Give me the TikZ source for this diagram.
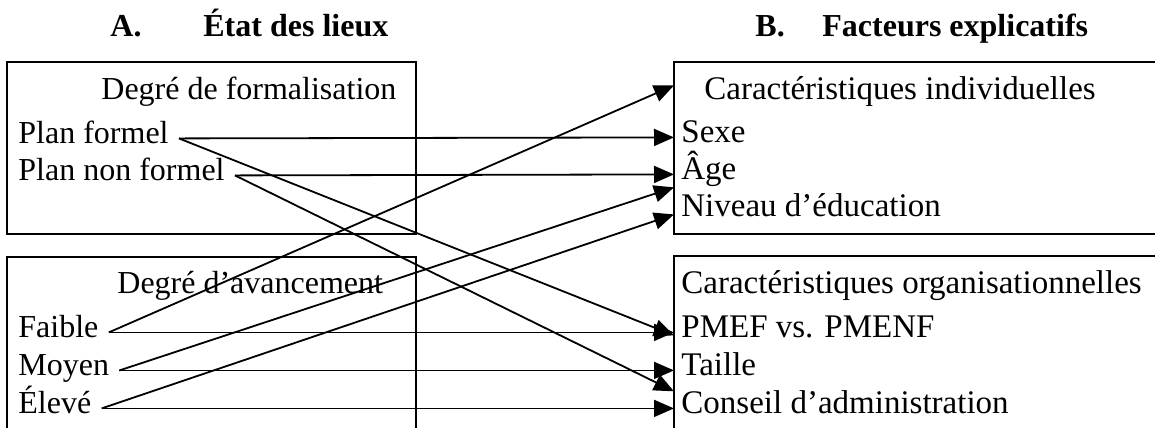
\documentclass[tikz,border=0pt]{standalone}
\usepackage{fontspec}
\setmainfont{Liberation Serif}
\usetikzlibrary{arrows.meta,calc}

\tikzset{
	gauche/.style={anchor=base west, inner xsep=5pt, inner ysep=0pt},
	droite/.style={anchor=base west, inner xsep=3.5pt, inner ysep=0pt, font=\fontsize{16.5}{19}\selectfont},
	titre/.style={anchor=base west, inner sep=0pt},
	entete/.style={anchor=base west, inner sep=0pt, font=\fontsize{16}{19}\selectfont\bfseries},
	fleche/.style={-{Triangle[length=10pt,width=8.5pt]}, line width=0.9pt},
	boite/.style={line width=1pt},
}

\begin{document}
\begin{tikzpicture}[x=0.5pt, y=-0.5pt, font=\fontsize{16}{19}\selectfont]
		\useasboundingbox (0, 0) rectangle (1155, 428);
		
		\node[entete] (ha) at (110, 36) {A.};
		\node[entete] (hb) at (203, 36) {État des lieux};
		\node[entete] (hc) at (755, 36) {B.};
		\node[entete] (hd) at (822, 36) {Facteurs explicatifs};
		
		\draw[boite] (7, 62) rectangle (416, 234);
		\draw[boite] (7, 428) -- (7, 257) -- (416, 257) -- (416, 428);
		\draw[boite] (1156, 62) -- (674, 62) -- (674, 234) -- (1156, 234);
		\draw[boite] (1156, 256) -- (674, 256) -- (674, 428);
		
		\node[titre] (tf) at (101, 99) {Degré de formalisation};
		\node[titre] (ta) at (117, 293) {Degré d’avancement};
		\node[titre, font=\fontsize{16.5}{19}\selectfont] (ti) at (704, 99) {Caractéristiques individuelles};
		\node[titre, font=\fontsize{16.5}{19}\selectfont] (to) at (681, 293) {Caractéristiques organisationnelles};
		
		\node[gauche] (pf) at (8, 143) {Plan formel};
		\node[gauche] (pnf) at (8, 180) {Plan non formel\ };
		\node[gauche] (faible) at (8, 337) {Faible};
		\node[gauche] (moyen) at (8, 375) {Moyen};
		\node[gauche] (eleve) at (8, 413) {Élevé};
		
		\node[droite] (sexe) at (674, 142) {Sexe};
		\node[droite] (age) at (674, 179) {Âge};
		\node[droite] (niveau) at (674, 216) {Niveau d’éducation};
		\node[droite] (pmef) at (674, 337) {PMEF vs. PMENF};
		\node[droite] (taille) at (674, 375) {Taille};
		\node[droite] (conseil) at (674, 413) {Conseil d’administration};
		
		\draw[fleche] (pf.mid east) -- (sexe.mid west);
		\draw[fleche] (pf.mid east) -- ($(pmef.mid west)+(0, 3)$);
		\draw[fleche] (pnf.mid east) -- (age.mid west);
		\draw[fleche] (pnf.mid east) -- ($(taille.mid west)!0.55!(conseil.mid west)$);
		
		\draw[fleche] (faible.mid east) -- ($(sexe.mid west)+(0, -52)$);
		\draw[fleche] (faible.mid east) -- (pmef.mid west);
		\draw[fleche] (moyen.mid east) -- ($(age.mid west)!0.35!(niveau.mid west)$);
		\draw[fleche] (moyen.mid east) -- (taille.mid west);
		\draw[fleche] (eleve.mid east) -- ($(niveau.mid west)+(0, 3)$);
		\draw[fleche] (eleve.mid east) -- (conseil.mid west);
	\end{tikzpicture}
\end{document}
